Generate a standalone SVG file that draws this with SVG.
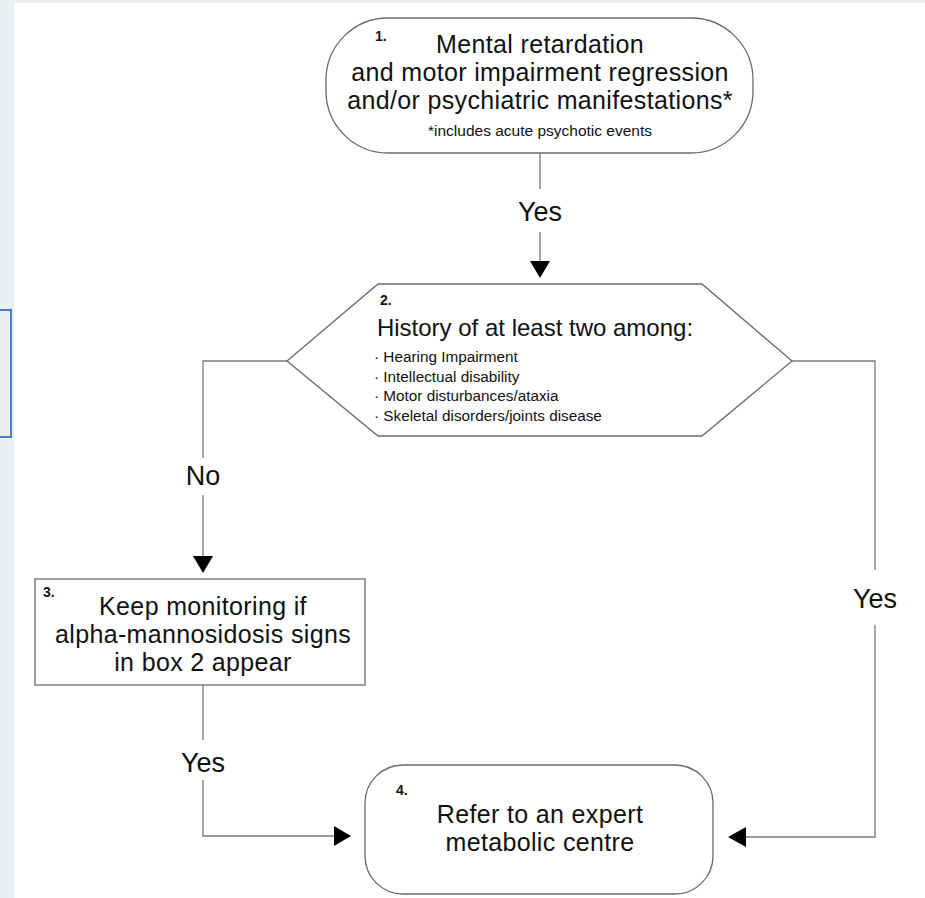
<svg xmlns="http://www.w3.org/2000/svg" width="925" height="898" viewBox="0 0 925 898">
<defs>
<style>
.bg{fill:#e9eff3}
.node{fill:#fff;stroke:#6a6a6a;stroke-width:1.3}
.t{font-family:"Liberation Sans",Arial,sans-serif;fill:#111;text-anchor:middle}
.big{font-size:25px;letter-spacing:0.35px}
.hist{font-size:24px}
.sm{font-size:15.5px}
.num{font-size:14px;font-weight:bold;text-anchor:start}
.li{font-size:15.3px;text-anchor:start}
.lbl{font-size:27px}
.conn{fill:none;stroke:#7a7a7a;stroke-width:1.3}
.ah{fill:#000}
</style>
</defs>
<rect x="0" y="0" width="925" height="898" fill="#fff"/>
<rect class="bg" x="0" y="0" width="925" height="3"/>
<rect class="bg" x="0" y="0" width="14" height="898"/>
<rect x="-4" y="310" width="15" height="127" fill="none" stroke="#4a7bd0" stroke-width="2"/>

<g id="connectors">
<path class="conn" d="M540 153 V189"/>
<path class="conn" d="M540 232 V262"/>
<polygon class="ah" points="530,261 550,261 540,278"/>
<text class="t lbl" x="540" y="221">Yes</text>

<path class="conn" d="M287 361 H203 V458"/>
<path class="conn" d="M203 495 V557"/>
<polygon class="ah" points="193,556 213,556 203,573"/>
<text class="t lbl" x="203" y="485">No</text>

<path class="conn" d="M792 361 H875 V570"/>
<path class="conn" d="M875 625 V837 H745"/>
<polygon class="ah" points="746,827 746,847 728,837"/>
<text class="t lbl" x="875" y="608">Yes</text>

<path class="conn" d="M203 685 V740"/>
<path class="conn" d="M203 780 V836 H335"/>
<polygon class="ah" points="334,826 334,846 351,836"/>
<text class="t lbl" x="203" y="772">Yes</text>
</g>

<g id="node1">
<rect class="node" x="326" y="18" width="427" height="135" rx="62" ry="62"/>
<text class="t num" x="375" y="41">1.</text>
<text class="t big" x="540" y="53">Mental retardation</text>
<text class="t big" x="540" y="81">and motor impairment regression</text>
<text class="t big" x="540" y="109">and/or psychiatric manifestations*</text>
<text class="t sm" x="540" y="136">*includes acute psychotic events</text>
</g>

<g id="node2">
<polygon class="node" points="287,361 378,284 702,284 792,361 702,436 378,436"/>
<text class="t num" x="380" y="305">2.</text>
<text class="t hist" x="535" y="336">History of at least two among:</text>
<text class="t li" x="374" y="362">· Hearing Impairment</text>
<text class="t li" x="374" y="382">· Intellectual disability</text>
<text class="t li" x="374" y="401">· Motor disturbances/ataxia</text>
<text class="t li" x="374" y="421">· Skeletal disorders/joints disease</text>
</g>

<g id="node3">
<rect class="node" x="35" y="579" width="330" height="106"/>
<text class="t num" x="43" y="597">3.</text>
<text class="t big" x="203" y="615">Keep monitoring if</text>
<text class="t big" x="203" y="643">alpha-mannosidosis signs</text>
<text class="t big" x="203" y="671">in box 2 appear</text>
</g>

<g id="node4">
<rect class="node" x="365" y="765" width="348" height="129" rx="38" ry="38"/>
<text class="t num" x="396" y="795">4.</text>
<text class="t big" x="540" y="823">Refer to an expert</text>
<text class="t big" x="540" y="851">metabolic centre</text>
</g>
</svg>
